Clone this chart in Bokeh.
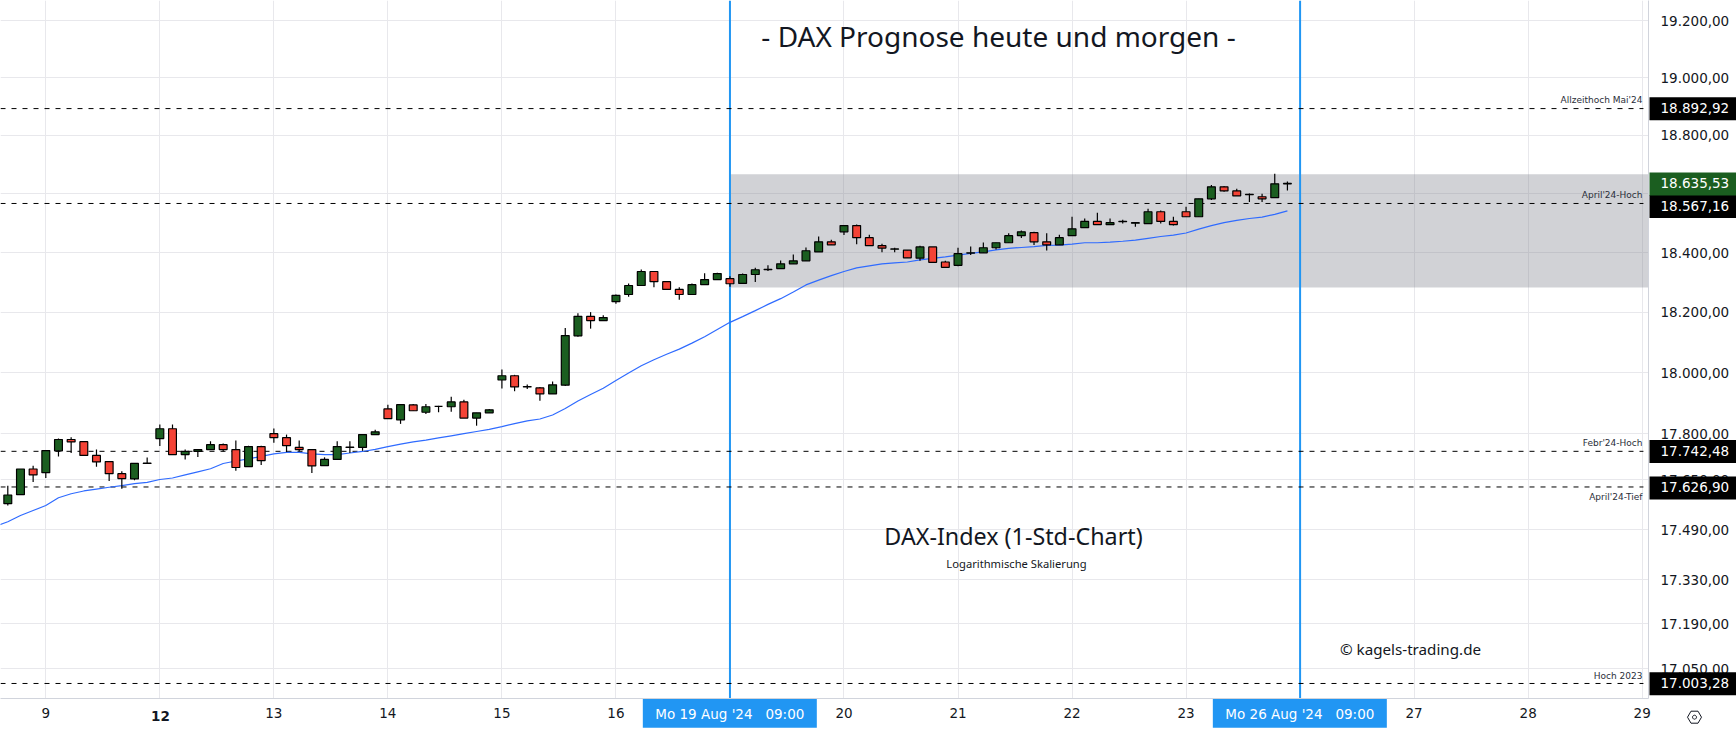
import math
from bokeh.plotting import figure
from bokeh.models import FixedTicker, Range1d
from bokeh.core.properties import value
from bokeh.embed import file_html
from bokeh.resources import INLINE

# --- data ---
first_bar = -3
opens = [17573,17602,17685,17673,17744,17781,17774,17729,17709,17670,17653,17703,17784,17816,17732,17742,17748,17764,17748,17693,17758,17800,17787,17755,17748,17696,17716,17755,17755,17797,17881,
 17845,17894,17870,17889,17888,17904,17851,17868,17976,17990,17953,17950,17930,17959,18122,18187,18173,18236,18260,18290,18337,18303,18277,18260,18293,18310,18313,18297,18327,18343,18347,18363,
 18373,18403,18437,18471,18492,18451,18424,18412,18409,18382,18420,18369,18358,18399,18400,18417,18434,18458,18468,18437,18427,18458,
 18485,18506,18495,18505,18500,18499,18539,18506,18539,18522,18583,18624,18610,18597,18590,18587,18634]
highs = [17631,17685,17696,17745,17784,17788,17774,17748,17709,17678,17703,17722,17830,17830,17748,17748,17775,17768,17778,17761,17761,17817,17797,17778,17748,17723,17775,17775,17797,17813,17895,
 17895,17897,17897,17891,17921,17911,17868,17881,18011,17993,17961,17953,17971,18148,18197,18201,18191,18260,18297,18344,18337,18303,18284,18297,18331,18333,18321,18330,18350,18358,18374,18394,
 18418,18455,18444,18492,18496,18461,18431,18417,18409,18424,18420,18373,18417,18421,18435,18434,18466,18475,18471,18466,18461,18522,
 18516,18536,18516,18512,18504,18549,18543,18522,18556,18583,18630,18627,18617,18601,18600,18669,18642]
lows = [17567,17602,17643,17656,17726,17737,17729,17692,17646,17621,17649,17703,17760,17732,17716,17724,17748,17742,17679,17693,17698,17770,17740,17742,17672,17696,17716,17737,17744,17797,17849,
 17832,17875,17864,17870,17872,17851,17826,17868,17948,17939,17946,17908,17930,17956,18119,18146,18173,18229,18252,18290,18284,18277,18242,18260,18293,18310,18286,18297,18302,18339,18347,18363,
 18373,18403,18427,18460,18429,18424,18402,18402,18383,18373,18368,18351,18355,18393,18400,18411,18434,18450,18426,18408,18427,18458,
 18485,18495,18495,18499,18488,18499,18499,18492,18522,18522,18579,18607,18593,18572,18572,18587,18611]
closes = [17601,17685,17666,17745,17781,17773,17729,17708,17670,17654,17703,17704,17816,17732,17742,17748,17764,17748,17690,17758,17712,17787,17761,17748,17695,17716,17758,17756,17797,17806,17849,
 17895,17875,17888,17889,17904,17851,17868,17878,17990,17953,17954,17930,17960,18123,18187,18173,18183,18257,18290,18337,18303,18277,18260,18293,18310,18330,18296,18327,18343,18344,18363,18373,
 18407,18437,18427,18492,18451,18424,18416,18413,18383,18420,18368,18351,18397,18400,18417,18434,18458,18471,18437,18427,18451,18481,
 18506,18495,18502,18506,18502,18539,18506,18495,18522,18583,18624,18610,18593,18598,18583,18634,18635.53]

ema_first_bar = -4
ema = [17500,17515,17535,17551,17567,17592,17605,17614,17620,17626,17631,17638,17642,17651,17656,17666,17676,17686,17703,17711,17718,17726,17734,17739,17739,17734,17732,17732,17737,17742,17749,17758,
 17766,17773,17779,17786,17793,17800,17807,17814,17823,17833,17842,17848,17861,17882,17907,17928,17949,17974,17999,18023,18043,18061,18078,18098,18119,18143,18167,18186,18206,18227,18246,18268,
 18292,18308,18323,18337,18349,18356,18363,18366,18369,18376,18381,18386,18392,18398,18403,18410,18415,18418,18421,18425,18426,18429,
 18434,18434,18436,18439,18443,18449,18455,18460,18467,18480,18492,18502,18510,18516,18521,18530,18542]

level_values = [18892.92, 18567.16, 17742.48, 17626.90, 17003.28]
level_texts = ["Allzeithoch Mai'24", "April'24-Hoch", "Febr'24-Hoch", "April'24-Tief", "Hoch 2023"]
level_tag_texts = ["18.892,92", "18.567,16", "17.742,48", "17.626,90", "17.003,28"]
level_text_y = [99.7, 194.7, 442.7, 496, 675.7]
level_tag_y = [108.3, 206, 451, 487.5, 683.3]

last_price_text = "18.635,53"
band_top, band_bottom = 18667, 18283
range_bars = [54, 99]
range_texts = ["Mo 19 Aug '24\u00a0\u00a0\u00a009:00", "Mo 26 Aug '24\u00a0\u00a0\u00a009:00"]

y_ticks = [19200,19000,18800,18600,18400,18200,18000,17800,17650,17490,17330,17190,17050]
y_labels = ["19.200,00","19.000,00","18.800,00","18.600,00","18.400,00","18.200,00","18.000,00","17.800,00","17.650,00","17.490,00","17.330,00","17.190,00","17.050,00"]
x_ticks = [0,9,18,27,36,45,54,63,72,81,90,99,108,117,126]
x_labels = ["9","","13","14","15","16","19","20","21","22","23","26","27","28","29"]

UP, DOWN = "#1b5e20", "#f44336"
GRID = "#e8e8ec"
BORDER = "#d1d4dc"
BLUE = "#2196f3"
INK = "#131722"
FONT = "Noto Sans"
AXFONT = "DejaVu Sans"
W, H = 1736, 731
PLACE = {"position": "absolute", "left": "0px", "top": "0px"}

p = figure(width=W, height=H, output_backend="svg", toolbar_location=None,
           y_axis_type="log", y_axis_location="right",
           x_range=Range1d(-3.576, 126.5), y_range=Range1d(16956.5, 19271),
           min_border_left=0, min_border_top=0, min_border_right=88, min_border_bottom=33,
           margin=0, styles=PLACE, outline_line_color=None, background_fill_color="white")

p.yaxis.ticker = FixedTicker(ticks=y_ticks)
p.yaxis.major_label_overrides = dict(zip(y_ticks, y_labels))
p.xaxis.ticker = FixedTicker(ticks=x_ticks)
p.xaxis.major_label_overrides = dict(zip(x_ticks, x_labels))
for ax in (p.xaxis[0], p.yaxis[0]):
    ax.major_tick_in = 0
    ax.major_tick_out = 0
    ax.minor_tick_in = 0
    ax.minor_tick_out = 0
    ax.axis_line_color = BORDER
    ax.axis_line_width = 1
    ax.major_label_text_color = INK
    ax.major_label_text_font = AXFONT
    ax.major_label_text_font_size = "13.5px"
p.yaxis.major_label_standoff = 12
p.xaxis.major_label_standoff = 9
p.xgrid.grid_line_color = GRID
p.ygrid.grid_line_color = GRID
p.xgrid.grid_line_width = 1
p.ygrid.grid_line_width = 1

# band
p.quad(left=[range_bars[0]], right=[126.5], top=[band_top], bottom=[band_bottom],
       fill_color="#787b86", fill_alpha=0.34, line_color=None)
# range lines
p.segment(x0=range_bars, x1=range_bars, y0=[16956.5]*2, y1=[19271]*2, line_color=BLUE, line_width=2)
# horizontal levels
n_lv = len(level_values)
p.segment(x0=[-3.576]*n_lv, x1=[126.1]*n_lv, y0=level_values, y1=level_values,
          line_color="black", line_width=1, line_dash="5 6")
# moving average
p.line(list(range(ema_first_bar, ema_first_bar + len(ema))), ema, line_color="#2f6bff", line_width=1.2)

# candles
xs = list(range(first_bar, first_bar + len(opens)))
p.segment(x0=xs, x1=xs, y0=lows, y1=highs, line_color="black", line_width=1.2)
tops = [max(o, c) for o, c in zip(opens, closes)]
bots = [min(o, c) for o, c in zip(opens, closes)]
cols = [UP if c >= o else DOWN for o, c in zip(opens, closes)]
p.vbar(x=xs, width=0.62, top=tops, bottom=bots, fill_color=cols, line_color="black", line_width=1.2)

# transparent sheet over the whole page, in page pixels, for price tags and captions
ov = figure(width=W, height=H, output_backend="svg", toolbar_location=None,
            x_range=Range1d(0, W), y_range=Range1d(H, 0),
            x_axis_type=None, y_axis_type=None,
            min_border=0, margin=0, styles=PLACE,
            outline_line_color=None, background_fill_alpha=0, border_fill_alpha=0)
ov.grid.visible = False

def label(text, x, y, size, align="center", color=INK, style="normal", font=FONT):
    ov.text(x=[x], y=[y], text=[text], text_align=align, text_baseline="middle", text_color=color,
            text_font=value(font), text_font_size=size, text_font_style=style)

def box(l, r, t, b, color):
    ov.quad(left=[l], right=[r], top=[t], bottom=[b], fill_color=color, line_color=None)

label("12", 160, 715.5, "13.5px", style="bold", font=AXFONT)

for txt, yc in zip(level_tag_texts, level_tag_y):
    box(1649, W, yc - 11.5, yc + 11.5, "black")
    label(txt, 1660, yc - 1, "13.5px", align="left", color="white", font=AXFONT)
box(1649, W, 172, 195, UP)
label(last_price_text, 1660, 182, "13.5px", align="left", color="white", font=AXFONT)

for txt, yc in zip(level_texts, level_text_y):
    label(txt, 1642, yc, "9px", align="right", color="#2a2e39", font=AXFONT)

for b, txt in zip(range_bars, range_texts):
    cx = 45.3 + b * 12.667
    box(cx - 87, cx + 87, 698.5, 727.3, BLUE)
    label(txt, cx, 713, "13.5px", color="white", font=AXFONT)

label("- DAX Prognose heute und morgen -", 998, 35, "28px")
label("DAX-Index (1-Std-Chart)", 1013, 535, "23.3px")
label("Logarithmische Skalierung", 1016, 563, "11.2px")
label("© kagels-trading.de", 1410, 648, "15.2px")

# settings icon
cx, cy = 1694, 716.7
ov.patch([cx - 7, cx - 3.5, cx + 3.5, cx + 7, cx + 3.5, cx - 3.5],
         [cy, cy - 6, cy - 6, cy, cy + 6, cy + 6], fill_alpha=0, line_color=INK, line_width=1)
circ = [i * math.pi / 6 for i in range(12)]
ov.patch([cx + 2 * math.cos(a) for a in circ], [cy + 2 * math.sin(a) for a in circ],
         fill_alpha=0, line_color=INK, line_width=1)

open("out.html", "w").write(file_html([p, ov], INLINE))
